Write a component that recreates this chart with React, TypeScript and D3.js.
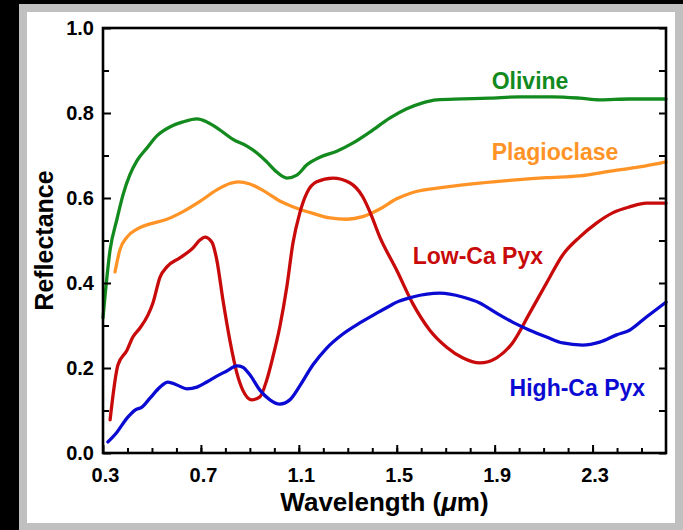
import React, { useEffect, useRef } from "react";
import * as d3 from "d3";

// spectra (wavelength in µm, reflectance)
const olivineWl = [0.3, 0.329, 0.357, 0.382, 0.41, 0.439, 0.48, 0.52, 0.573, 0.627, 0.684, 0.724, 0.778, 0.831, 0.888, 0.929, 0.969, 1.01, 1.051, 1.092, 1.133, 1.186, 1.255, 1.32, 1.39, 1.471, 1.541, 1.606, 1.663, 1.769, 1.88, 2.002, 2.137, 2.247, 2.329, 2.451, 2.6];
const olivineR = [0.318, 0.478, 0.55, 0.608, 0.655, 0.688, 0.718, 0.746, 0.767, 0.779, 0.786, 0.779, 0.76, 0.738, 0.722, 0.706, 0.685, 0.661, 0.647, 0.654, 0.678, 0.696, 0.71, 0.729, 0.755, 0.788, 0.81, 0.824, 0.831, 0.833, 0.835, 0.838, 0.838, 0.835, 0.831, 0.833, 0.833];

const plagWl = [0.349, 0.369, 0.398, 0.439, 0.492, 0.561, 0.627, 0.696, 0.765, 0.818, 0.851, 0.9, 0.953, 1.022, 1.092, 1.157, 1.227, 1.296, 1.361, 1.431, 1.5, 1.565, 1.704, 1.839, 1.973, 2.112, 2.247, 2.382, 2.492, 2.6];
const plagR = [0.426, 0.478, 0.508, 0.527, 0.539, 0.55, 0.568, 0.592, 0.619, 0.634, 0.638, 0.633, 0.618, 0.593, 0.576, 0.564, 0.553, 0.55, 0.556, 0.574, 0.598, 0.613, 0.626, 0.635, 0.642, 0.648, 0.652, 0.664, 0.673, 0.685];

const lowCaWl = [0.329, 0.361, 0.398, 0.422, 0.451, 0.484, 0.504, 0.533, 0.561, 0.614, 0.667, 0.696, 0.716, 0.745, 0.765, 0.79, 0.818, 0.847, 0.871, 0.908, 0.941, 0.969, 0.994, 1.022, 1.051, 1.076, 1.104, 1.133, 1.173, 1.239, 1.308, 1.361, 1.39, 1.431, 1.5, 1.565, 1.635, 1.704, 1.769, 1.839, 1.908, 1.973, 2.043, 2.112, 2.178, 2.247, 2.316, 2.382, 2.451, 2.52, 2.6];
const lowCaR = [0.078, 0.207, 0.242, 0.273, 0.294, 0.325, 0.353, 0.414, 0.438, 0.459, 0.482, 0.501, 0.508, 0.496, 0.454, 0.36, 0.266, 0.188, 0.148, 0.125, 0.132, 0.172, 0.226, 0.296, 0.391, 0.494, 0.565, 0.612, 0.638, 0.647, 0.636, 0.603, 0.568, 0.508, 0.43, 0.352, 0.289, 0.249, 0.224, 0.212, 0.224, 0.259, 0.329, 0.4, 0.466, 0.508, 0.541, 0.565, 0.579, 0.588, 0.588];

const highCaWl = [0.32, 0.357, 0.398, 0.431, 0.459, 0.492, 0.533, 0.565, 0.602, 0.643, 0.684, 0.724, 0.765, 0.806, 0.847, 0.871, 0.9, 0.941, 0.982, 1.022, 1.063, 1.104, 1.157, 1.214, 1.28, 1.349, 1.418, 1.471, 1.5, 1.565, 1.676, 1.769, 1.839, 1.908, 1.973, 2.043, 2.112, 2.178, 2.259, 2.329, 2.398, 2.451, 2.52, 2.6];
const highCaR = [0.026, 0.049, 0.082, 0.101, 0.108, 0.129, 0.155, 0.167, 0.16, 0.151, 0.155, 0.167, 0.181, 0.193, 0.205, 0.202, 0.184, 0.148, 0.125, 0.115, 0.125, 0.158, 0.207, 0.247, 0.28, 0.306, 0.329, 0.346, 0.355, 0.367, 0.376, 0.367, 0.353, 0.329, 0.308, 0.289, 0.273, 0.259, 0.254, 0.261, 0.278, 0.289, 0.32, 0.355];

const seriesNames = ["Olivine", "Plagioclase", "Low-Ca Pyx", "High-Ca Pyx"];
const seriesColors = ["#138a1e", "#ff9326", "#c80a0a", "#0a0ad2"];
// where each name sits (wavelength, reflectance of its baseline)
const labelWl = [1.888, 1.888, 1.565, 1.961];
const labelR = [0.856, 0.689, 0.445, 0.133];

const xMajor = [0.3, 0.7, 1.1, 1.5, 1.9, 2.3];
const xMinor = d3.range(4, 26).map((d) => d / 10);
const yMajor = [0, 0.2, 0.4, 0.6, 0.8, 1.0];
const yMinor = [0.1, 0.3, 0.5, 0.7, 0.9];

const width = 683;
const height = 530;
const font = "'Liberation Sans', Arial, Helvetica, sans-serif";

function App() {
  const svgRef = useRef<SVGSVGElement>(null);

  const x = d3.scaleLinear().domain([0.3, 2.6]).range([103, 666]);
  const y = d3.scaleLinear().domain([0, 1]).range([453, 28]);

  const spectra = [
    [olivineWl, olivineR],
    [plagWl, plagR],
    [lowCaWl, lowCaR],
    [highCaWl, highCaR],
  ];

  const line = d3
    .line<[number, number]>()
    .x((d) => x(d[0]))
    .y((d) => y(d[1]))
    .curve(d3.curveMonotoneX);

  useEffect(() => {
    const svg = d3.select(svgRef.current);
    const [x0, x1] = x.range();
    const [y0, y1] = y.range();

    const style = (g: any) => {
      g.select(".domain").remove();
      g.selectAll("line").attr("stroke", "#000").attr("stroke-width", 2);
      g.selectAll("text")
        .attr("fill", "#000")
        .style("font-family", font)
        .style("font-weight", "bold")
        .style("font-size", "20px");
    };

    svg.select<SVGGElement>(".x-minor")
      .attr("transform", `translate(0,${y0})`)
      .call(d3.axisBottom(x).tickValues(xMinor).tickSize(-5).tickFormat(() => ""))
      .call(style);
    svg.select<SVGGElement>(".x-major")
      .attr("transform", `translate(0,${y0})`)
      .call(d3.axisBottom(x).tickValues(xMajor).tickSize(-8).tickPadding(15).tickFormat(d3.format(".1f")))
      .call(style)
      .selectAll("text")
      .attr("dx", 2);

    svg.select<SVGGElement>(".y-left")
      .attr("transform", `translate(${x0},0)`)
      .call(d3.axisLeft(y).tickValues(yMajor).tickSize(-8).tickPadding(9).tickFormat(d3.format(".1f")))
      .call(style);
    svg.select<SVGGElement>(".y-left-minor")
      .attr("transform", `translate(${x0},0)`)
      .call(d3.axisLeft(y).tickValues(yMinor).tickSize(-6).tickFormat(() => ""))
      .call(style);
    svg.select<SVGGElement>(".y-right")
      .attr("transform", `translate(${x1},0)`)
      .call(d3.axisRight(y).tickValues(yMajor.concat(yMinor)).tickSize(-7).tickFormat(() => ""))
      .call(style);

    svg.select(".frame")
      .attr("x", x0)
      .attr("y", y1)
      .attr("width", x1 - x0)
      .attr("height", y0 - y1);
  }, []);

  return (
    <svg
      ref={svgRef}
      width={width}
      height={height}
      style={{ position: "absolute", left: 0, top: 0 }}
    >
      <rect x={0} y={0} width={width} height={height} fill="#000" />
      <rect x={19} y={4} width={width - 19} height={height - 4} fill="#c0c0c0" />
      <rect x={27} y={12} width={648} height={511} fill="#fff" />

      {spectra.map(([wl, r], i) => (
        <path
          key={seriesNames[i]}
          d={line(wl.map((w, j) => [w, r[j]] as [number, number])) || ""}
          fill="none"
          stroke={seriesColors[i]}
          strokeWidth={3.3}
          strokeLinejoin="round"
          strokeLinecap="round"
        />
      ))}

      <g className="x-minor" />
      <g className="x-major" />
      <g className="y-left" />
      <g className="y-left-minor" />
      <g className="y-right" />
      <rect className="frame" fill="none" stroke="#000" strokeWidth={2.6} />

      {seriesNames.map((name, i) => (
        <text
          key={name}
          x={x(labelWl[i])}
          y={y(labelR[i])}
          fill={seriesColors[i]}
          fontFamily={font}
          fontWeight="bold"
          fontSize={23}
        >
          {name}
        </text>
      ))}

      <text
        x={(x.range()[0] + x.range()[1]) / 2}
        y={511}
        textAnchor="middle"
        fontFamily={font}
        fontWeight="bold"
        fontSize={26}
      >
        Wavelength (<tspan fontStyle="italic">μ</tspan>m)
      </text>
      <text
        transform={`translate(53,${(y.range()[0] + y.range()[1]) / 2}) rotate(-90)`}
        textAnchor="middle"
        fontFamily={font}
        fontWeight="bold"
        fontSize={25}
      >
        Reflectance
      </text>
    </svg>
  );
}

export default App;
